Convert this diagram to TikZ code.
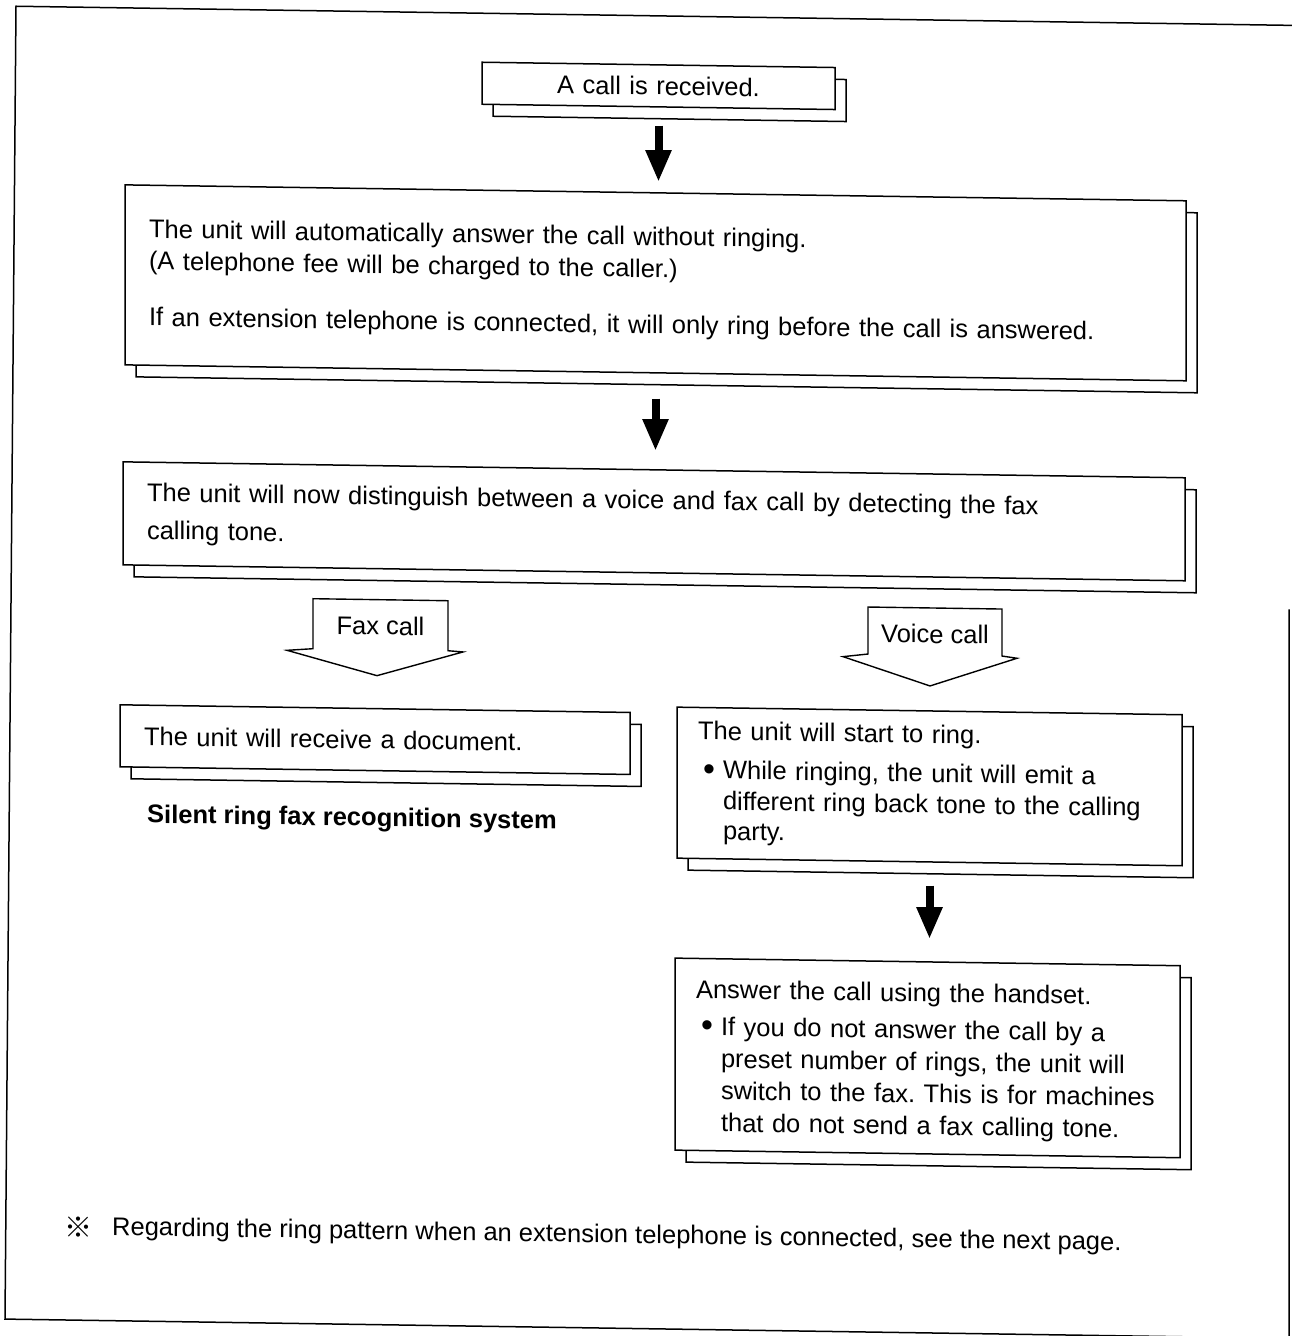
\documentclass[tikz,border=0pt]{standalone}
\usepackage{fontspec}
\setmainfont{Liberation Sans}
\newfontfamily\cjkfont{Noto Sans CJK JP}
\usetikzlibrary{arrows.meta,positioning,shadows}

\newcommand{\boxfont}{\fontsize{25.5pt}{30pt}\selectfont\frenchspacing}
\newcommand{\bulitem}{\hspace*{5pt}\makebox[20pt][l]{\raisebox{-1.5pt}[0pt][0pt]{\fontsize{34pt}{30pt}\selectfont\textbullet}}}
\newcommand{\bulcont}{\hspace*{25pt}}

\tikzset{
  stepbox/.style={draw,line width=1.5pt,fill=white,inner xsep=24pt,inner ysep=0pt,
    align=left,font=\boxfont,
    general shadow={shadow xshift=11pt,shadow yshift=-12pt,draw=black,fill=white,line width=1.5pt}},
  plaintext/.style={inner sep=0pt,font=\boxfont},
  thickarrow/.style={line width=8pt,-{Triangle[width=24pt,length=32pt]}},
  blockline/.style={draw,line width=1.4pt,line join=miter},
}

\begin{document}
\begin{tikzpicture}[x=1pt,y=-1pt]
\useasboundingbox (0,0) rectangle (1292,1336);
\begin{scope}[yslant=-0.015,transform shape]
% page frame
\draw[line width=1.5pt] (1289,590) -- (1289,1319) -- (5,1319) -- (16,6) -- (1292,6);

% main chain
\node[stepbox,align=center,text width=305pt,minimum height=42pt] (received) at (658.5,76) {A call is received.};
\node[stepbox,text width=1013pt,minimum height=180pt] (autoanswer) at (655.5,273)
  {The unit will automatically answer the call without ringing.\\[2pt]
   (A telephone fee will be charged to the caller.)\\[26pt]
   If an extension telephone is connected, it will only ring before the call is answered.};
\node[stepbox,text width=1014pt,minimum height=103pt] (detect) at (654,511.5)
  {The unit will now distinguish between a voice and fax call by detecting the fax\\[8pt]
   calling tone.};

% the two branches
\node[plaintext] (faxlbl) at (380.5,620) {Fax call};
\node[plaintext] (voicelbl) at (935,620) {Voice call};
\node[stepbox,text width=462pt,minimum height=62pt] (document) at (375,734) {The unit will receive a document.};
\node[stepbox,inner xsep=21pt,text width=463pt,minimum height=151pt] (ringing) at (929.5,772.5)
  {The unit will start to ring.\\[9pt]
   \bulitem While ringing, the unit will emit a\\[1pt]
   \bulcont different ring back tone to the calling\\
   \bulcont party.};
\node[stepbox,inner xsep=21pt,text width=463pt,minimum height=192pt] (handset) at (927.5,1044)
  {\rule{0pt}{26pt}Answer the call using the handset.\\[7pt]
   \bulitem If you do not answer the call by a\\[2pt]
   \bulcont preset number of rings, the unit will\\[2pt]
   \bulcont switch to the fax. This is for machines\\[2pt]
   \bulcont that do not send a fax calling tone.};

\node[plaintext,anchor=west,font={\boxfont\bfseries}] (silent) at (147,814) {Silent ring fax recognition system};

% footnote
\node[inner sep=0pt] (refmark) at (78,1226) {\cjkfont\fontsize{28pt}{28pt}\selectfont ※};
\node[plaintext,anchor=west] (note) at (112,1227) {Regarding the ring pattern when an extension telephone is connected, see the next page.};

% arrows
\draw[thickarrow,shorten <=18pt,shorten >=10pt] (received.south) -- (received.south |- autoanswer.north);
\draw[thickarrow,shorten <=25pt,shorten >=18pt] (autoanswer.south) -- (autoanswer.south |- detect.north);
\draw[thickarrow,shorten <=23pt,shorten >=22pt] (ringing.south) -- (ringing.south |- handset.north);
\draw[blockline] (faxlbl.center) ++(-67.5,-26) -- ++(0,50) -- ++(-26,2) -- ++(90,24) -- ++(86,-25) -- ++(-15,-1) -- ++(0,-50) -- cycle;
\draw[blockline] (voicelbl.center) ++(-67,-26) -- ++(0,47) -- ++(-25,3) -- ++(87,28) -- ++(87,-29) -- ++(-15,-2) -- ++(0,-47) -- cycle;
\end{scope}
\end{tikzpicture}
\end{document}
